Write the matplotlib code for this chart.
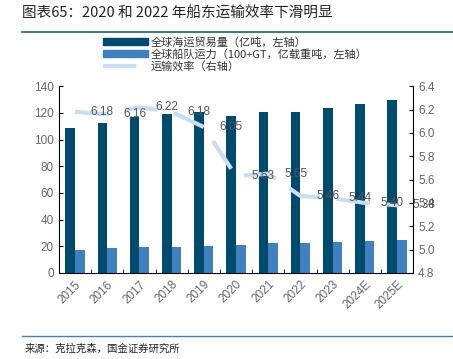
import matplotlib
matplotlib.use('Agg')
import matplotlib.pyplot as plt
from matplotlib.lines import Line2D
from matplotlib.patches import Patch
import numpy as np

plt.rcParams['font.family'] = ['Liberation Sans', 'Noto Sans CJK SC', 'DejaVu Sans']

years = ['2015', '2016', '2017', '2018', '2019', '2020', '2021', '2022', '2023', '2024E', '2025E']
trade = [109, 112.5, 117, 119.5, 120.5, 117.5, 120.5, 120.5, 124, 126.5, 129.5]
fleet = [17.5, 18.5, 19.5, 19.5, 20.5, 21, 22.3, 22.3, 23, 24, 25]
efficiency = [6.18, 6.16, 6.22, 6.18, 6.05, 5.63, 5.65, 5.46, 5.44, 5.40, 5.38]

dark = '#004a6e'
light = '#3f80c0'
line_c = '#c9dff1'
grey = '#666666'
cjk = ['Noto Sans CJK SC', 'DejaVu Sans']

fig = plt.figure(figsize=(4.53, 3.59), dpi=100)
ax = fig.add_axes([0.130, 0.2396, 0.782, 0.5204])
ax2 = ax.twinx()

x = np.arange(len(years))
w = 0.3
ax.bar(x - w / 2, trade, w, color=dark, zorder=2)
ax.bar(x + w / 2, fleet, w, color=light, zorder=2)

ax2.plot(x, efficiency, color=line_c, lw=3, dashes=(8, 4), zorder=3)
for xi, v in zip(x, efficiency):
    ax2.text(xi + 0.85, v, '%.2f' % v, ha='center', va='center',
             fontsize=8.5, color='#555555', zorder=4)

ax.set_xlim(-0.5, 10.5)
ax.set_ylim(0, 140)
ax.set_yticks(range(0, 141, 20))
ax2.set_ylim(4.8, 6.4)
ax2.set_yticks(np.arange(4.8, 6.41, 0.2))
ax2.set_yticklabels(['%.1f' % t for t in np.arange(4.8, 6.41, 0.2)])

ax.set_xticks(x)
ax.set_xticklabels(years, rotation=45, ha='right', rotation_mode='anchor')
ax.set_xticks(np.arange(-0.5, 10.6, 1), minor=True)
ax.tick_params(axis='x', which='major', length=0, labelsize=8.5, labelcolor=grey, pad=4)
ax.tick_params(axis='x', which='minor', direction='in', length=3)
ax.tick_params(axis='y', direction='in', length=3, labelsize=8.5, labelcolor=grey)
ax2.tick_params(axis='y', direction='in', length=3, labelsize=8.5, labelcolor=grey)

for a in (ax, ax2):
    a.spines['top'].set_visible(False)
ax2.spines['left'].set_visible(False)
ax2.spines['bottom'].set_visible(False)
ax.spines['right'].set_visible(False)

handles = [Patch(color=dark), Patch(color=light),
           Line2D([], [], color=line_c, lw=3, dashes=(8, 4))]
labels = ['全球海运贸易量（亿吨，左轴）',
          '全球船队运力（100+GT，亿载重吨，左轴）',
          '运输效率（右轴）']
leg = fig.legend(handles, labels, loc='upper left', bbox_to_anchor=(0.218, 0.91),
                 frameon=False, fontsize=8, handlelength=4.0, handleheight=0.6,
                 labelspacing=0.1, handletextpad=0.3, borderaxespad=0)
for t in leg.get_texts():
    t.set_color('#333333')
    t.set_family(cjk)

fig.text(22 / 453, 1 - 14 / 359, '图表65：2020 和 2022 年船东运输效率下滑明显',
         fontsize=10.5, fontweight='medium', family=cjk, color='#222222',
         ha='left', va='center')
fig.add_artist(Line2D([22 / 453, 1], [1 - 32 / 359] * 2, color='#1f5a85', lw=1.2))
fig.add_artist(Line2D([22 / 453, 1], [1 - 336 / 359] * 2, color='#4a7fa8', lw=1.0))
fig.text(25 / 453, 1 - 349 / 359, '来源：克拉克森，国金证券研究所',
         fontsize=7.5, family=cjk, color='#222222', ha='left', va='center')

fig.savefig('out.png', dpi=100)
